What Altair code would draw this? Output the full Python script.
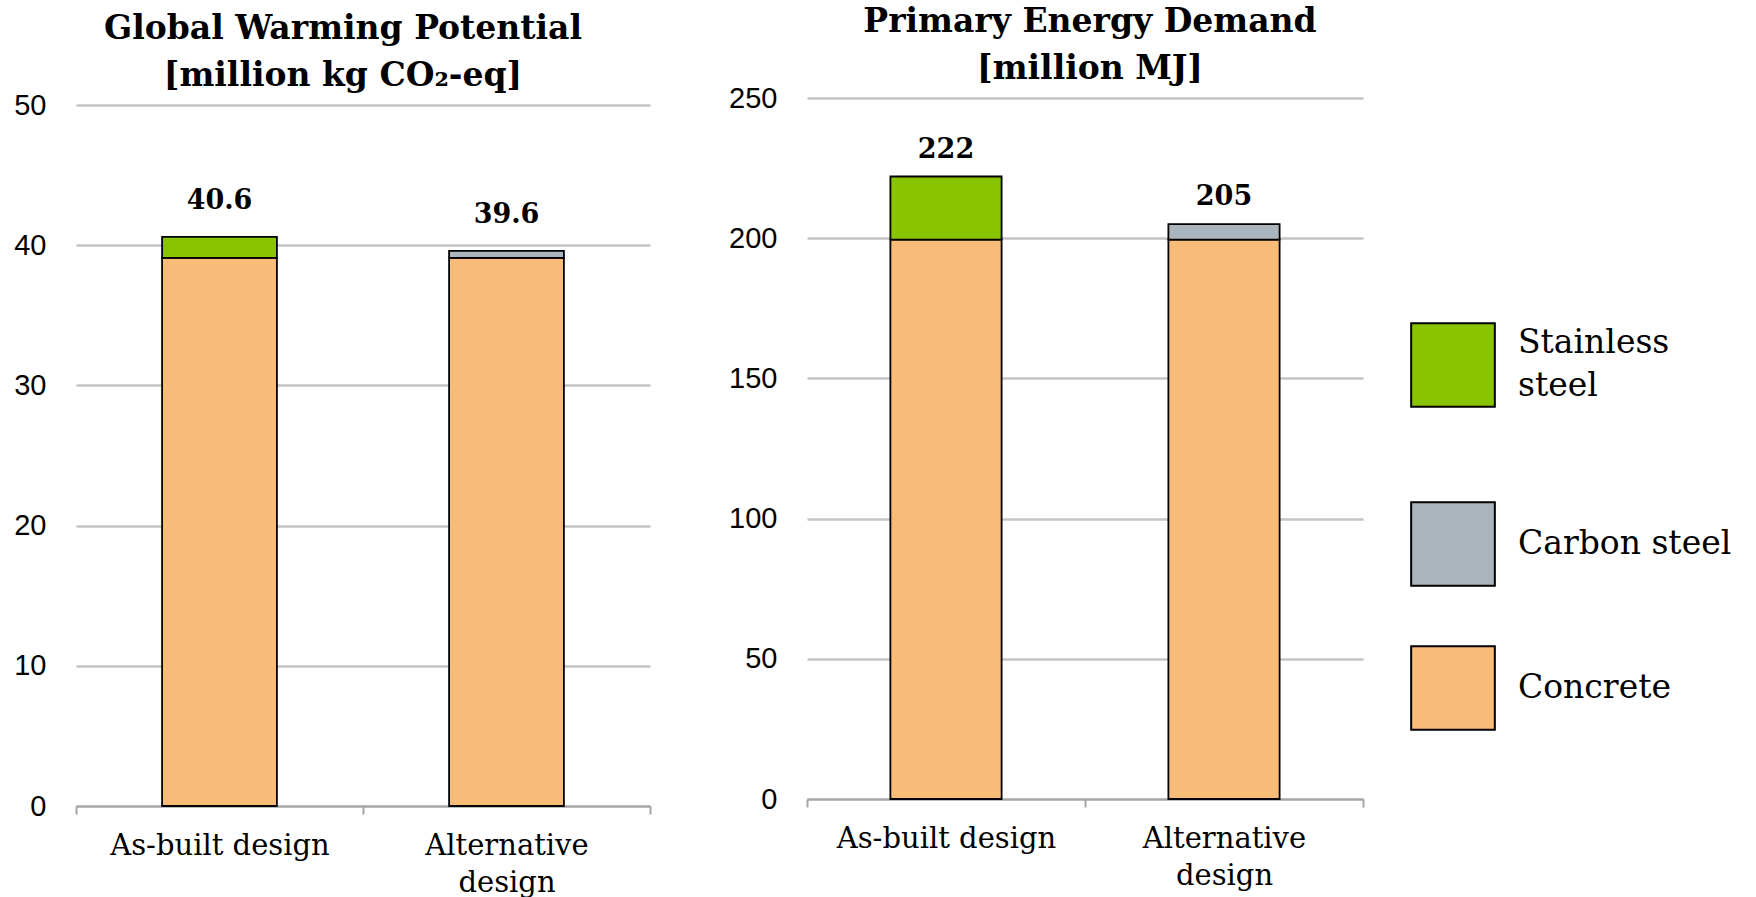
import altair as alt
import pandas as pd

# Designs compared and materials (legend order, top to bottom)
designs = ["As-built design", "Alternative design"]
materials = ["Stainless steel", "Carbon steel", "Concrete"]
material_colors = ["#88C400", "#ABB5BE", "#F9BB78"]

# Global warming potential, million kg CO2-eq
gwp_concrete = [39.1, 39.1]
gwp_carbon_steel = [0.0, 0.5]
gwp_stainless_steel = [1.5, 0.0]

# Primary energy demand, million MJ
ped_concrete = [199.5, 199.5]
ped_carbon_steel = [0.0, 5.5]
ped_stainless_steel = [22.5, 0.0]

SLAB = "DejaVu Serif"
SANS = "Liberation Sans"


def long_table(concrete, carbon, stainless):
    rows = []
    for i, d in enumerate(designs):
        for rank, (m, v) in enumerate(
            [("Concrete", concrete[i]), ("Carbon steel", carbon[i]), ("Stainless steel", stainless[i])]
        ):
            if v > 0:
                rows.append({"design": d, "material": m, "value": v, "rank": rank})
    return pd.DataFrame(rows)


def totals_table(concrete, carbon, stainless):
    return pd.DataFrame(
        {
            "design": designs,
            "total": [round(a + b + c, 1) for a, b, c in zip(concrete, carbon, stainless)],
        }
    )


x_enc = alt.X(
    "design:N",
    sort=designs,
    title=None,
    scale=alt.Scale(paddingInner=0, paddingOuter=0),
    axis=alt.Axis(
        labelAngle=0,
        labelFont=SLAB,
        labelFontSize=29,
        labelColor="black",
        labelPadding=17,
        labelLineHeight=37,
        labelLimit=400,
        labelExpr="datum.value == 'Alternative design' ? ['Alternative', 'design'] : datum.label",
        domainColor="#A6A6A6",
        domainWidth=2,
        tickColor="#A6A6A6",
        tickWidth=2,
        tickSize=8,
        tickBand="extent",
        grid=False,
    ),
)

color_enc = alt.Color(
    "material:N",
    scale=alt.Scale(domain=materials, range=material_colors),
    legend=alt.Legend(
        title=None,
        orient="none",
        legendX=1334,
        legendY=224,
        padding=0,
        gridAlign="each",
        symbolType="square",
        symbolSize=7000,
        symbolStrokeColor="black",
        symbolStrokeWidth=2,
        symbolOpacity=1,
        labelFont=SLAB,
        labelFontSize=33,
        labelColor="black",
        labelOffset=22,
        labelLimit=400,
        # wrapped label, with a blank trailing line that gives its row extra room
        labelExpr="datum.value == 'Stainless steel' ? ['Stainless', 'steel', ''] : datum.label",
        # two-line label is centred on its swatch, single-line ones sit on the middle
        labelBaseline=alt.ExprRef("datum.value == 'Stainless steel' ? 'line-bottom' : 'middle'"),
        rowPadding=52,
    ),
)


def panel(df, totals, ymax, ystep, scale_max, height, title_lines, fmt, label_dy, title_dx):
    y_axis = alt.Axis(
        values=list(range(0, ymax + 1, ystep)),
        domain=False,
        ticks=False,
        labelFont=SANS,
        labelFontSize=29,
        labelColor="black",
        labelPadding=30,
        gridColor="#C4C4C4",
        gridWidth=2.5,
    )
    bars = (
        alt.Chart(df)
        .mark_bar(stroke="black", strokeWidth=1.8, width=alt.RelativeBandSize(0.4))
        .encode(
            x=x_enc,
            y=alt.Y("value:Q", stack="zero", title=None,
                    scale=alt.Scale(domain=[0, scale_max], nice=False), axis=y_axis),
            color=color_enc,
            order=alt.Order("rank:Q"),
        )
    )
    labels = (
        alt.Chart(totals)
        .mark_text(font=SLAB, fontWeight="bold", fontSize=27, baseline="bottom",
                   dy=label_dy, color="black")
        .encode(
            x=alt.X("design:N", sort=designs),
            y=alt.Y("total:Q"),
            text=alt.Text("total:Q", format=fmt),
        )
    )
    return alt.layer(bars, labels).properties(
        width=panel_widths[ymax],
        height=height,
        title=alt.Title(
            title_lines,
            font=SLAB,
            fontWeight="bold",
            fontSize=33,
            lineHeight=47,
            color="black",
            anchor="middle",
            frame="group",
            dx=title_dx,
            offset=-2,
        ),
    )


panel_widths = {50: 574, 250: 556}

# the GWP panel sits slightly lower: a little headroom above its 50 gridline
gwp = panel(
    long_table(gwp_concrete, gwp_carbon_steel, gwp_stainless_steel),
    totals_table(gwp_concrete, gwp_carbon_steel, gwp_stainless_steel),
    50, 10, 50.5, 708,
    ["Global Warming Potential", "[million kg CO₂-eq]"],
    ".1f", -22, -20,
)
ped = panel(
    long_table(ped_concrete, ped_carbon_steel, ped_stainless_steel),
    totals_table(ped_concrete, ped_carbon_steel, ped_stainless_steel),
    250, 50, 250, 701,
    ["Primary Energy Demand", "[million MJ]"],
    ".0f", -13, 5,
)

chart = (
    alt.hconcat(gwp, ped, spacing=77)
    .properties(padding={"left": 13, "top": 6, "right": 0, "bottom": 0}, background="white")
    .configure(style={"guide-label": {"lineHeight": 43}})
    .configure_view(stroke=None)
)

chart.save("out.html", embed_options={"renderer": "svg", "actions": False})
